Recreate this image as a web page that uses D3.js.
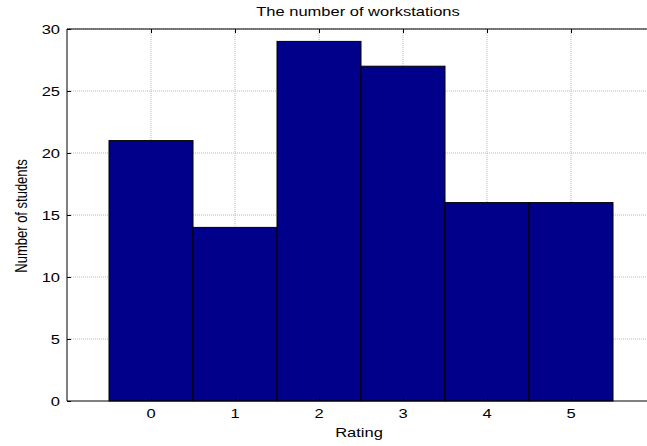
<!DOCTYPE html>
<html>
<head>
<meta charset="utf-8">
<script src="https://cdn.jsdelivr.net/npm/d3@7"></script>
<style>
  body { margin: 0; background: #fff; }
  svg text.lbl { font-family: "Liberation Sans", Arial, sans-serif; font-size: 13px; fill: #000; }
</style>
</head>
<body>
<div id="chart"></div>
<script>
// data
const ratings = [0, 1, 2, 3, 4, 5]
const students = [21, 14, 29, 27, 16, 16]
const yTicks = [0, 5, 10, 15, 20, 25, 30]

const width = 647
const height = 446
const margin = { top: 29, left: 67 }
const plotBottom = 401
const stretch = 1.27 // the reference picture is widened horizontally, text included

const svg = d3.select('#chart').append('svg')
  .attr('width', width)
  .attr('height', height)

// x domain runs past the window on the right, as in the reference
const xScale = d3.scaleLinear().domain([-1, 6]).range([margin.left, margin.left + 7 * 84])
const yScale = d3.scaleLinear().domain([0, 30]).range([plotBottom, margin.top])

const grid = svg.append('g').attr('class', 'grid')

grid.selectAll('.vgrid')
  .data(ratings)
  .join('line')
  .attr('x1', d => xScale(d)).attr('x2', d => xScale(d))
  .attr('y1', margin.top).attr('y2', plotBottom)
  .attr('stroke', '#b8b8b8')
  .attr('stroke-dasharray', '1,1')

grid.selectAll('.hgrid')
  .data(yTicks.slice(1))
  .join('line')
  .attr('x1', margin.left).attr('x2', width)
  .attr('y1', d => yScale(d)).attr('y2', d => yScale(d))
  .attr('stroke', '#b8b8b8')
  .attr('stroke-dasharray', '1,1')

// bars, each one unit wide
svg.append('g').selectAll('rect')
  .data(ratings.map((r, i) => ({ r, v: students[i] })))
  .join('rect')
  .attr('x', d => xScale(d.r - 0.5))
  .attr('y', d => yScale(d.v))
  .attr('width', d => xScale(d.r + 0.5) - xScale(d.r - 0.5))
  .attr('height', d => yScale(0) - yScale(d.v))
  .attr('fill', '#00008b')
  .attr('stroke', '#000')
  .attr('stroke-width', 1)

// axes: ticks point inward, MATLAB style
svg.append('g')
  .attr('transform', 'translate(' + margin.left + ',0)')
  .call(d3.axisRight(yScale).tickValues(yTicks).tickSize(4).tickFormat(''))
  .select('.domain').remove()

svg.append('g')
  .attr('transform', 'translate(0,' + margin.top + ')')
  .call(d3.axisBottom(xScale).tickValues(ratings).tickSize(4).tickFormat(''))
  .select('.domain').remove()

svg.append('g')
  .attr('transform', 'translate(0,' + plotBottom + ')')
  .call(d3.axisTop(xScale).tickValues(ratings).tickSize(4).tickFormat(''))
  .select('.domain').remove()

// box lines (right edge falls outside the window)
svg.append('line')
  .attr('x1', margin.left).attr('x2', width)
  .attr('y1', margin.top).attr('y2', margin.top)
  .attr('stroke', '#000')
svg.append('line')
  .attr('x1', margin.left).attr('x2', width)
  .attr('y1', plotBottom).attr('y2', plotBottom)
  .attr('stroke', '#000')
svg.append('line')
  .attr('x1', margin.left).attr('x2', margin.left)
  .attr('y1', margin.top).attr('y2', plotBottom)
  .attr('stroke', '#000')

function addText (x, y, anchor, str, rotate) {
  return svg.append('text')
    .attr('class', 'lbl')
    .attr('transform', 'translate(' + x + ',' + y + ') scale(' + stretch + ',1)' + (rotate ? ' rotate(-90)' : ''))
    .attr('text-anchor', anchor)
    .text(str)
}

// tick labels
yTicks.forEach(d => addText(margin.left - 7, yScale(d) + 4.5, 'end', d))
ratings.forEach(d => addText(xScale(d), plotBottom + 17, 'middle', d))

// title and axis labels
const mid = xScale(2.5)
addText(mid - 3, 16, 'middle', 'The number of workstations')
addText(mid - 2, 437, 'middle', 'Rating')
addText(27, (margin.top + plotBottom) / 2 + 1, 'middle', 'Number of students', true)
</script>
</body>
</html>
